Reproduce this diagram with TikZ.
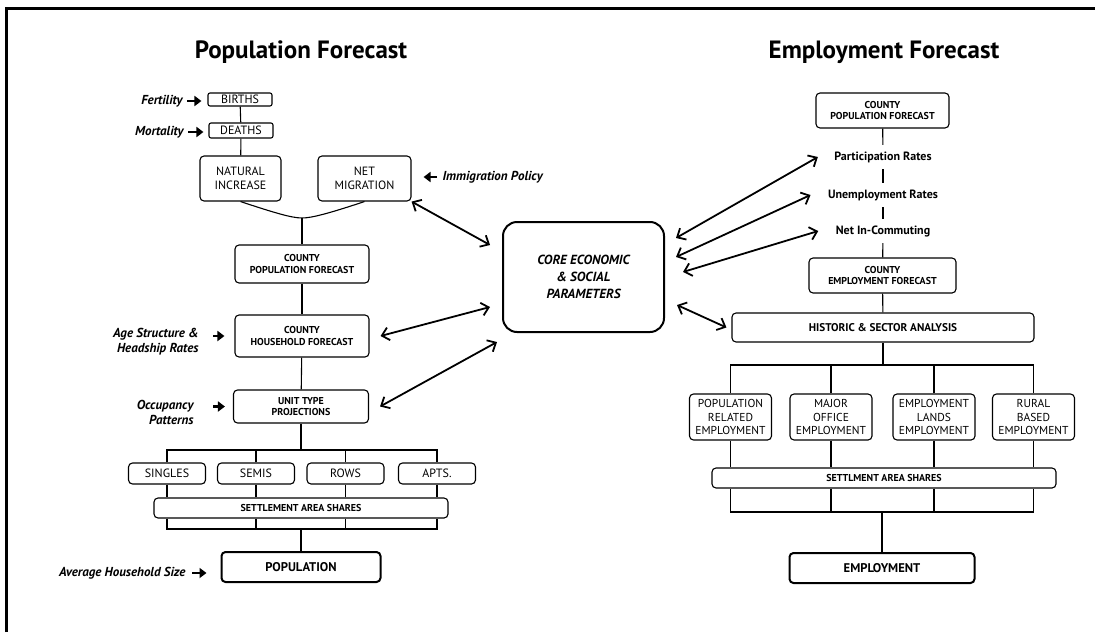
\documentclass[tikz,border=0pt]{standalone}
\usepackage{fontspec}
\setmainfont{PT Sans}
\usepackage{tikz}
\usetikzlibrary{arrows.meta}

\begin{document}
\begin{tikzpicture}[x=1pt,y=-1pt,line width=1.1pt,
  box/.style={draw,rounded corners=4pt,align=center,inner sep=1pt,font=\fontsize{12}{13.5}\selectfont},
  bbox/.style={box,font=\bfseries\fontsize{10}{11.5}\selectfont},
  tbox/.style={box,minimum width=77pt,minimum height=21pt},
  ebox/.style={box,font=\fontsize{11.5}{13.3}\selectfont,minimum width=82pt,minimum height=46pt,inner sep=0pt},
  heavy/.style={box,line width=2pt,font=\bfseries\fontsize{12.6}{14}\selectfont},
  lbl/.style={align=right,font=\bfseries\itshape\fontsize{13}{15}\selectfont,inner sep=1pt},
  rate/.style={font=\bfseries\fontsize{12}{13}\selectfont,inner xsep=2pt,inner ysep=6pt},
  title/.style={font=\bfseries\fontsize{25}{29}\selectfont},
  inarr/.style={-{Triangle[length=7pt,width=10pt]},line width=2.2pt},
  link/.style={{Straight Barb[length=7pt,width=13pt]}-{Straight Barb[length=7pt,width=13pt]},line width=1.8pt}]
\useasboundingbox (0,0) rectangle (1095,632);
\draw[line width=3pt] (6.5,632) -- (6.5,8.5) -- (1095,8.5);

\path node[title] (t1) at (301,52) {Population Forecast}
      node[title] (t2) at (884,52) {Employment Forecast};

% population side
\path node[box,minimum width=64pt,minimum height=13pt,rounded corners=2pt,inner sep=0pt] (1) at (240,99.5) {BIRTHS}
      node[box,minimum width=64pt,minimum height=15pt,rounded corners=2pt,inner sep=0pt] (2) at (241,130.5) {DEATHS}
      node[box,minimum width=81pt,minimum height=45pt] (3) at (240.5,178.5) {NATURAL\\INCREASE}
      node[box,minimum width=93pt,minimum height=45pt] (4) at (364.5,178.5) {NET\\MIGRATION}
      node[bbox,minimum width=134pt,minimum height=38pt] (5) at (302,264) {COUNTY\\POPULATION FORECAST}
      node[bbox,minimum width=134pt,minimum height=42pt] (6) at (302,336) {COUNTY\\HOUSEHOLD FORECAST}
      node[bbox,minimum width=135pt,minimum height=33pt] (7) at (301,406.5) {UNIT TYPE\\PROJECTIONS}
      node[tbox] (8) at (167,473.5) {SINGLES}
      node[tbox] (9) at (256,473.5) {SEMIS}
      node[tbox] (10) at (345.5,473.5) {ROWS}
      node[tbox] (11) at (437,473.5) {APTS.}
      node[bbox,minimum width=294pt,minimum height=20pt] (12) at (301,508) {SETTLEMENT AREA SHARES}
      node[heavy,minimum width=159pt,minimum height=30pt] (13) at (301,567) {POPULATION};

\path node[lbl,anchor=east] (fe) at (184,101) {Fertility}
      node[lbl,anchor=east] (mo) at (185,132) {Mortality}
      node[lbl,anchor=west] (im) at (441,177) {Immigration Policy}
      node[lbl,anchor=east] (ag) at (200,342) {Age Structure \&\\Headship Rates}
      node[lbl,anchor=east] (oc) at (195,412) {Occupancy\\Patterns}
      node[lbl,anchor=east] (av) at (187,573) {Average Household Size};

\draw[inarr,shorten <=3pt,shorten >=6pt] (fe.east) -- (fe.east -| 1.west);
\draw[inarr,shorten <=3pt,shorten >=5pt] (mo.east) -- (mo.east -| 2.west);
\draw[inarr,shorten <=4pt,shorten >=12pt] (im.west) -- (im.west -| 4.east);
\draw[inarr,shorten <=13pt,shorten >=10pt] (ag.east |- 6) -- (6.west);
\draw[inarr,shorten <=18pt,shorten >=8pt] (oc.east |- 7) -- (7.west);
\draw[inarr,shorten <=5pt,shorten >=14pt] (av.east) -- (av.east -| 13.west);

\coordinate (j) at (302,218);
\draw (1) -- (2);
\draw (2) -- (3);
\draw (3.south) .. controls (275,213) and (292,218) .. (j) .. controls (312,218) and (330,213) .. (4.south);
\draw (j) -- (5);
\draw (5) -- (6);
\draw (6) -- (7);

\coordinate (b1) at (301,450);
\coordinate (b2) at (301,529);
\draw (7) -- (b1);
\draw (8.north) |- (b1) -| (11.north);
\foreach \n in {9,10} \draw (\n.north) -- (\n.north |- b1);
\foreach \n in {8,...,11} \draw (\n.south) -- (\n.south |- 12.north);
\draw (8 |- 12.south) |- (b2) -| (11 |- 12.south);
\foreach \n in {9,10} \draw (\n |- 12.south) -- (\n |- b2);
\draw (b2) -- (13);

% employment side
\path node[bbox,minimum width=133pt,minimum height=35pt] (21) at (882.5,110.5) {COUNTY\\POPULATION FORECAST}
      node[rate] (22) at (883,157) {Participation Rates}
      node[rate] (23) at (883,195) {Unemployment Rates}
      node[rate] (24) at (883,231) {Net In-Commuting}
      node[bbox,minimum width=147pt,minimum height=35pt] (25) at (882.5,275.5) {COUNTY\\EMPLOYMENT FORECAST}
      node[bbox,minimum width=302pt,minimum height=29pt,font=\bfseries\fontsize{11.2}{12}\selectfont] (26) at (883,327.5) {HISTORIC \& SECTOR ANALYSIS}
      node[ebox] (27) at (730.5,417) {POPULATION\\RELATED\\EMPLOYMENT}
      node[ebox] (28) at (831,417) {MAJOR\\OFFICE\\EMPLOYMENT}
      node[ebox] (29) at (934,417) {EMPLOYMENT\\LANDS\\EMPLOYMENT}
      node[ebox] (30) at (1033.5,417) {RURAL\\BASED\\EMPLOYMENT}
      node[bbox,minimum width=344pt,minimum height=20pt] (31) at (884,478) {SETTLMENT AREA SHARES}
      node[heavy,minimum width=185pt,minimum height=30pt] (32) at (882,568) {EMPLOYMENT};

\draw (21) -- (22);
\draw (22) -- (23);
\draw (23) -- (24);
\draw (24) -- (25);
\draw (25) -- (26);

\coordinate (b3) at (883,365);
\coordinate (b4) at (882,512);
\draw (26) -- (b3);
\draw (27.north) |- (b3) -| (30.north);
\foreach \n in {28,29} \draw (\n.north) -- (\n.north |- b3);
\foreach \n in {27,...,30} \draw (\n.south) -- (\n.south |- 31.north);
\draw (27 |- 31.south) |- (b4) -| (30 |- 31.south);
\foreach \n in {28,29} \draw (\n |- 31.south) -- (\n |- b4);
\draw (b4) -- (32);

% core parameters in the middle
\path node[box,line width=2pt,rounded corners=14pt,minimum width=161pt,minimum height=110pt,
           font=\bfseries\itshape\fontsize{13.2}{17}\selectfont] (20) at (583.5,277) {CORE ECONOMIC\\\& SOCIAL\\PARAMETERS};

\coordinate (c1) at (490,245);
\coordinate (c2) at (490,307);
\coordinate (c3) at (497,342);
\coordinate (c4) at (676,238);
\coordinate (c5) at (676,257);
\coordinate (c6) at (683,272);
\coordinate (c7) at (677,305);
\draw[link] (4.south east) -- (c1);
\draw[link] ([xshift=11pt]6.east) -- (c2);
\draw[link] ([xshift=11pt]7.east) -- (c3);
\draw[link] (c4) -- ([xshift=-14pt]22.west);
\draw[link] (c5) -- ([xshift=-15pt]23.west);
\draw[link] (c6) -- ([xshift=-15pt]24.west);
\draw[link] (c7) -- ([xshift=-5pt]26.west);

\end{tikzpicture}
\end{document}
